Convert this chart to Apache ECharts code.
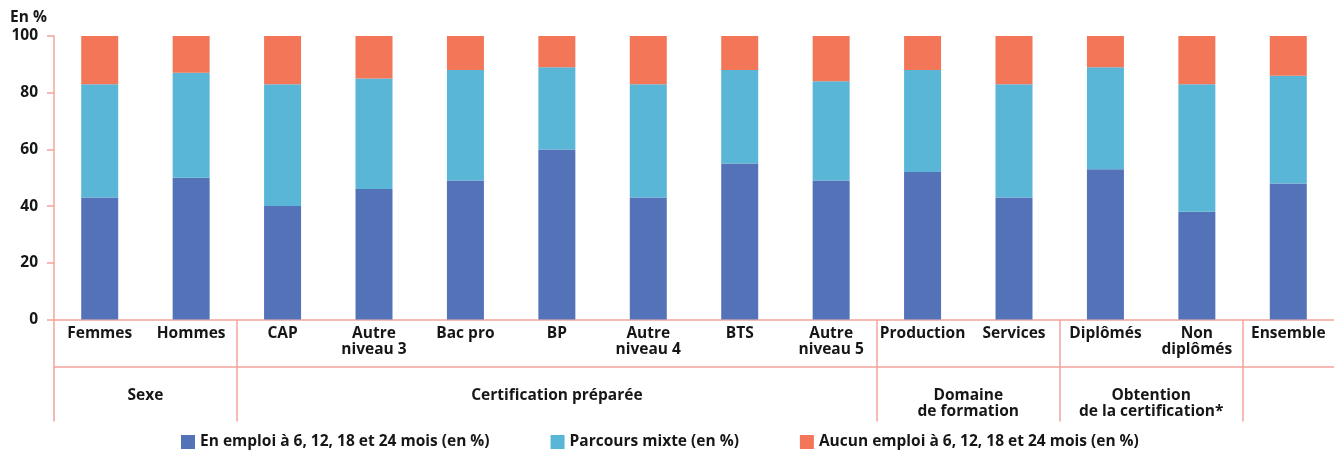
<!DOCTYPE html>
<html>
<head>
<meta charset="utf-8">
<script src="https://cdn.jsdelivr.net/npm/echarts@6/dist/echarts.min.js"></script>
<style>
  html, body { margin: 0; padding: 0; background: #fff; }
  #chart { width: 1334px; height: 450px; }
</style>
</head>
<body>
<div id="chart"></div>
<script>
const categories = ['Femmes', 'Hommes', 'CAP', 'Autre\nniveau 3', 'Bac pro', 'BP', 'Autre\nniveau 4', 'BTS', 'Autre\nniveau 5', 'Production', 'Services', 'Diplômés', 'Non\ndiplômés', 'Ensemble'];
const enEmploi = [43, 50, 40, 46, 49, 60, 43, 55, 49, 52, 43, 53, 38, 48];
const parcoursMixte = [40, 37, 43, 39, 39, 29, 40, 33, 35, 36, 40, 36, 45, 38];
const aucunEmploi = [17, 13, 17, 15, 12, 11, 17, 12, 16, 12, 17, 11, 17, 14];
const seriesNames = ['En emploi à 6, 12, 18 et 24 mois (en %)', 'Parcours mixte (en %)', 'Aucun emploi à 6, 12, 18 et 24 mois (en %)'];
const groupNames = ['Sexe', 'Certification préparée', 'Domaine\nde formation', 'Obtention\nde la certification*'];
const groupCenters = [1, 5.5, 10, 12];
const groupBounds = [0, 2, 9, 11, 13];
const yTicks = [0, 20, 40, 60, 80, 100];

const FONT = '"Open Sans", sans-serif';
const FS = 15.5;
const AXIS = '#f4a39c';
const TXT = '#161616';

const chart = echarts.init(document.getElementById('chart'));
const barStyle = (c) => ({ color: c });
chart.setOption({
  animation: false,
  textStyle: { fontFamily: FONT },
  title: {
    text: 'En %', left: 10, top: 10, padding: 0,
    textStyle: { fontFamily: FONT, fontSize: FS, fontWeight: 'bold', color: TXT }
  },
  legend: {
    left: 181, top: 434, padding: 0,
    itemWidth: 14, itemHeight: 14, itemGap: 61,
    icon: 'rect',
    textStyle: { fontFamily: FONT, fontSize: FS, fontWeight: 'bold', color: TXT },
    data: seriesNames
  },
  grid: { left: 54, right: -4, top: 36, bottom: 130.5, containLabel: false },
  xAxis: [
    {
      type: 'category', data: categories, position: 'bottom',
      axisLine: { show: true, lineStyle: { color: AXIS, width: 1.5 } },
      axisTick: { show: false },
      axisLabel: { interval: 0, margin: 6, fontFamily: FONT, fontSize: FS, fontWeight: 'bold', color: TXT, lineHeight: 16 }
    },
    {
      type: 'value', min: 0, max: 14, position: 'bottom', offset: 0,
      axisLine: { show: false },
      axisTick: { show: true, customValues: groupBounds, length: 47, lineStyle: { color: AXIS, width: 1.5 } },
      axisLabel: { show: false },
      splitLine: { show: false }
    },
    {
      type: 'value', min: 0, max: 14, position: 'bottom', offset: 47,
      axisLine: { show: true, lineStyle: { color: AXIS, width: 1.5 } },
      axisTick: { show: true, customValues: groupBounds, length: 55, lineStyle: { color: AXIS, width: 1.5 } },
      axisLabel: {
        show: true, customValues: groupCenters, margin: 21,
        fontFamily: FONT, fontSize: FS, fontWeight: 'bold', color: TXT, lineHeight: 16,
        formatter: (v) => { const i = groupCenters.indexOf(v); return i >= 0 ? groupNames[i] : ''; }
      },
      splitLine: { show: false }
    }
  ],
  yAxis: {
    type: 'value', min: 0, max: 100, interval: 20,
    axisLine: { show: true, lineStyle: { color: AXIS, width: 1.5 } },
    axisTick: { show: true, length: 7, lineStyle: { color: AXIS, width: 1.5 } },
    axisLabel: { margin: 16, fontFamily: FONT, fontSize: FS, fontWeight: 'bold', color: TXT },
    splitLine: { show: false }
  },
  series: [
    { name: seriesNames[0], type: 'bar', stack: 'total', barWidth: 37, data: enEmploi, itemStyle: barStyle('#5472b8') },
    { name: seriesNames[1], type: 'bar', stack: 'total', barWidth: 37, data: parcoursMixte, itemStyle: barStyle('#5ab6d7') },
    { name: seriesNames[2], type: 'bar', stack: 'total', barWidth: 37, data: aucunEmploi, itemStyle: barStyle('#f37659') }
  ]
});
</script>
</body>
</html>
